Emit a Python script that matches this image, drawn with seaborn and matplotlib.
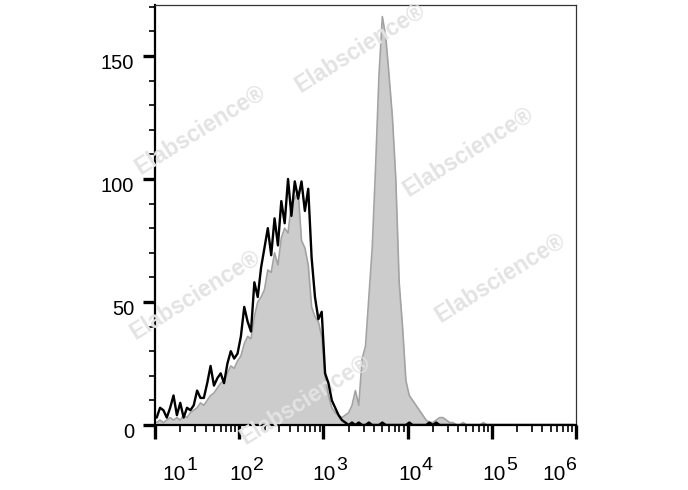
import numpy as np
import pandas as pd
import matplotlib
matplotlib.use('Agg')
import matplotlib.pyplot as plt
import seaborn as sns
from matplotlib.ticker import FixedLocator, LogLocator, MultipleLocator, NullFormatter
from matplotlib.transforms import ScaledTranslation, blended_transform_factory

# 125 log bins from 10^1 to 10^6 (0.04 decade each)
n_bins = 125

# isotype control (black line)
isotype = [
    3, 7, 6, 3, 7, 12, 4, 9, 3, 7,
    6, 8, 14, 11, 11, 17, 24, 16, 19, 21,
    17, 25, 30, 27, 29, 36, 48, 42, 38, 58,
    52, 64, 72, 80, 69, 84, 73, 91, 82, 100,
    85, 99, 92, 99, 87, 96, 68, 52, 43, 46,
    21, 17, 10, 7, 4, 2, 1, 0, 1, 0,
    1, 0, 0, 1, 0, 0, 0, 1, 0, 0,
    0, 0, 0, 0, 0, 1, 0, 0, 0, 0,
    0, 1, 0, 1, 0, 0, 0, 0, 0, 0,
    0, 0, 0, 0, 0, 0, 0, 0, 0, 0,
    0, 0, 0, 0, 0, 0, 0, 0, 0, 0,
    0, 0, 0, 0, 0, 0, 0, 0, 0, 0,
    0, 0, 0, 0, 0,
]

# stained sample (grey filled)
stained = [
    1, 2, 1, 2, 3, 2, 3, 2, 4, 3,
    5, 6, 7, 9, 8, 10, 12, 13, 15, 17,
    18, 21, 24, 23, 26, 28, 33, 36, 35, 44,
    50, 52, 55, 63, 62, 70, 65, 76, 80, 78,
    90, 92, 95, 75, 72, 65, 48, 44, 42, 36,
    20, 12, 7, 5, 4, 3, 4, 5, 8, 14,
    8, 27, 32, 52, 72, 105, 142, 166, 158, 142,
    125, 100, 58, 40, 18, 12, 10, 8, 6, 4,
    2, 1, 1, 2, 3, 3, 2, 1, 1, 0,
    0, 1, 0, 0, 0, 0, 0, 1, 0, 0,
    0, 0, 0, 0, 0, 0, 0, 0, 0, 0,
    0, 0, 0, 0, 0, 0, 0, 0, 0, 0,
    0, 0, 0, 0, 0,
]

decades = [1, 2, 3, 4, 5, 6]
y_ticks = [0, 50, 100, 150]

edges = np.logspace(1, 6, n_bins + 1)
centers = np.sqrt(edges[:-1] * edges[1:])
df = pd.DataFrame({'intensity': centers, 'isotype': isotype, 'stained': stained})

sns.set_style('ticks')
plt.rcParams['font.family'] = ['Liberation Sans', 'DejaVu Sans']
plt.rcParams['text.color'] = 'black'
plt.rcParams['xtick.color'] = 'black'
plt.rcParams['ytick.color'] = 'black'

fig = plt.figure(figsize=(6.88, 4.90), dpi=100)
ax = fig.add_axes([155 / 688, 1 - 425 / 490, 421 / 688, 420 / 490])

ax.fill_between(df['intensity'], df['stained'], color='#cccccc', lw=0, zorder=1)
sns.lineplot(data=df, x='intensity', y='stained', color='#a3a3a3', lw=1.2, ax=ax, zorder=2)
sns.lineplot(data=df, x='intensity', y='isotype', color='black', lw=1.7, ax=ax, zorder=4)

# watermarks
marks = [(360, 48), (200, 130), (468, 152), (195, 295), (500, 278), (305, 400)]
for mx, my in marks:
    ax.text(mx / 688, 1 - my / 490, 'Elabscience®', transform=fig.transFigure,
            rotation=32, ha='center', va='center', fontsize=16.5, fontweight='bold',
            color='#e3e3e3', zorder=3)

ax.set_xscale('log')
ax.set_xlim(10, 1e6)
ax.set_ylim(0, 170.7)
ax.set_xlabel('')
ax.set_ylabel('')

ax.xaxis.set_major_locator(FixedLocator([10.0 ** k for k in decades]))
ax.xaxis.set_minor_locator(LogLocator(base=10, subs=range(2, 10)))
ax.xaxis.set_minor_formatter(NullFormatter())
ax.set_xticklabels(['10'] * len(decades))
ax.yaxis.set_major_locator(FixedLocator(y_ticks))
ax.yaxis.set_minor_locator(MultipleLocator(10))

ax.tick_params(axis='x', which='major', direction='out', length=10, width=2.4, pad=18.5, labelsize=15)
ax.tick_params(axis='x', which='minor', direction='out', length=5, width=1.2)
ax.tick_params(axis='y', which='major', direction='out', length=9, width=2.4, pad=6, labelsize=14.5)
ax.tick_params(axis='y', which='minor', direction='out', length=4.5, width=1.2)

for side in ['left', 'bottom']:
    ax.spines[side].set_linewidth(1.6)
    ax.spines[side].set_color('black')
for side in ['top', 'right']:
    ax.spines[side].set_linewidth(0.9)
    ax.spines[side].set_color('#333333')

# label nudges as in the original export, plus the exponents
x_shift = [19, 2, 1, 2, 2, -22]
base = blended_transform_factory(ax.transData, ax.transAxes)
for lab, dx, k in zip(ax.get_xticklabels(), x_shift, decades):
    lab.set_transform(lab.get_transform() + ScaledTranslation(dx / 100, 0, fig.dpi_scale_trans))
    ax.text(10.0 ** k, 0, str(k), fontsize=14, ha='left', va='baseline',
            transform=base + ScaledTranslation((dx + 12) / 100, -45 / 100, fig.dpi_scale_trans))
for lab in ax.get_yticklabels():
    lab.set_transform(lab.get_transform() + ScaledTranslation(0, -6 / 100, fig.dpi_scale_trans))

fig.savefig('out.png', dpi=100)
